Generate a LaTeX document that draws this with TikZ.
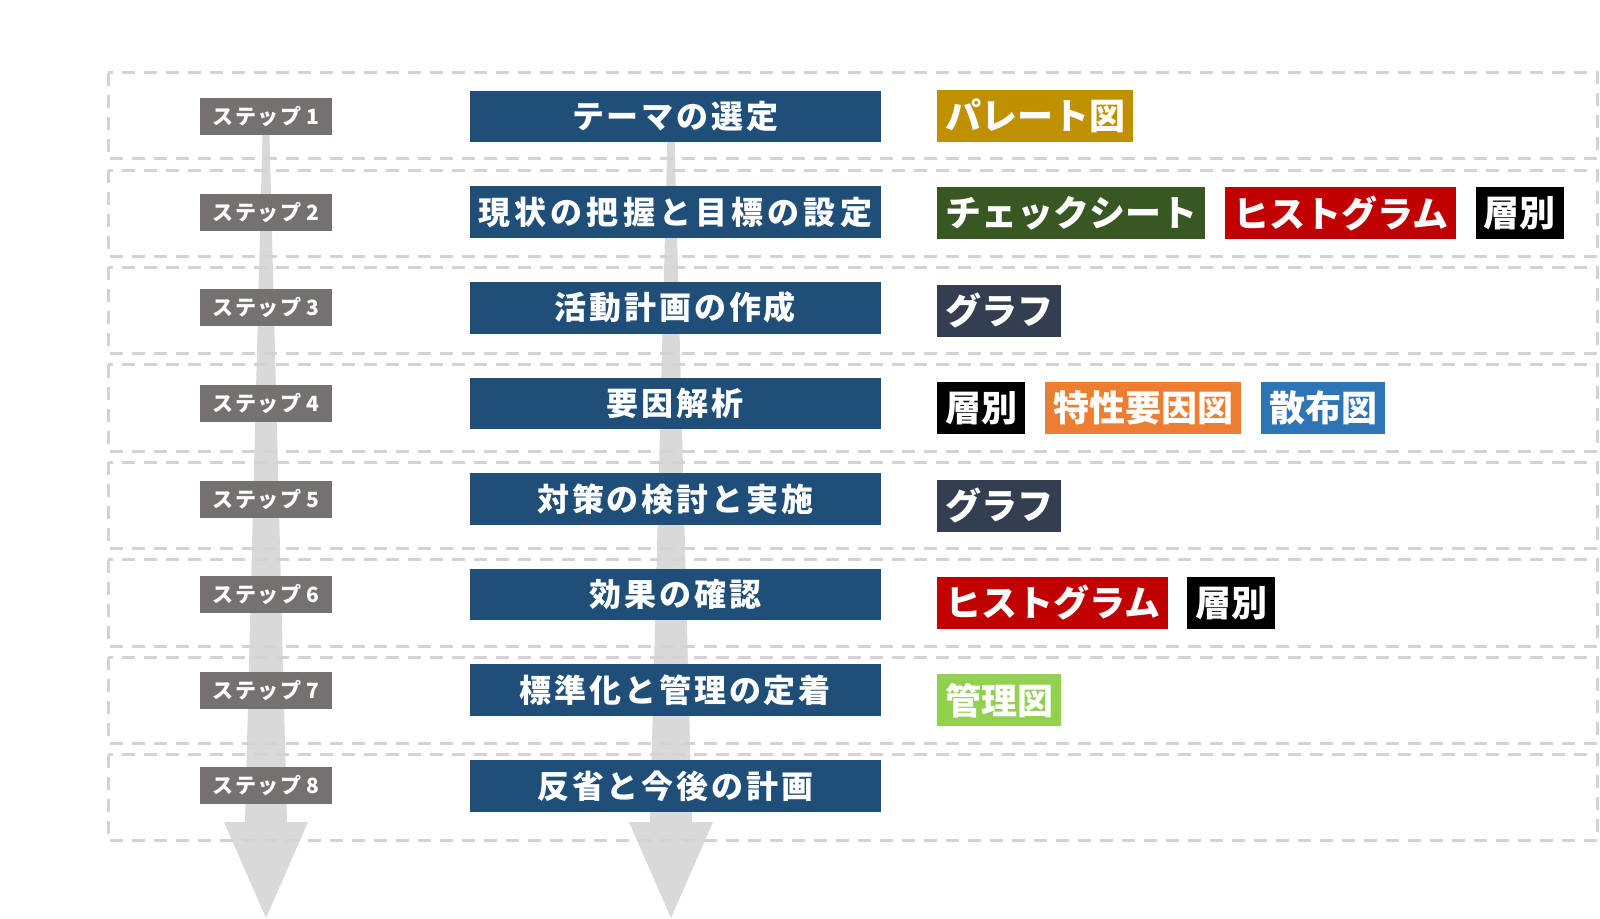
\documentclass[tikz,border=0pt]{standalone}
\usepackage{fontspec}
\newfontfamily\jp{Noto Sans CJK JP}
\usetikzlibrary{positioning}

\definecolor{stepgray}{HTML}{767171}
\definecolor{titleblue}{HTML}{1F4E79}
\definecolor{paretogold}{HTML}{BF9000}
\definecolor{checkgreen}{HTML}{385723}
\definecolor{histred}{HTML}{C00000}
\definecolor{graphslate}{HTML}{333F50}
\definecolor{fishorange}{HTML}{ED7D31}
\definecolor{scatterblue}{HTML}{2E75B6}
\definecolor{ctrlgreen}{HTML}{92D050}
\definecolor{arrowgray}{HTML}{D9D9D9}
\definecolor{dashgray}{HTML}{D3D3D3}

\begin{document}
\begin{tikzpicture}[x=0.5pt, y=-0.5pt,
  rowframe/.style={draw=dashgray, line width=1.5pt, dash pattern=on 6.5pt off 4.5pt},
  stepbox/.style={fill=stepgray, text=white, inner sep=0pt,
    minimum width=66pt, minimum height=18.5pt,
    font=\jp\bfseries\fontsize{10.5}{12}\selectfont\addfontfeature{LetterSpace=8}},
  titlebox/.style={fill=titleblue, text=white, inner sep=0pt,
    minimum width=205.3pt, minimum height=25.8pt,
    font=\jp\bfseries\fontsize{16}{19}\selectfont\addfontfeature{LetterSpace=9}},
  titlewide/.style={titlebox,
    font=\jp\bfseries\fontsize{16}{19}\selectfont\addfontfeature{LetterSpace=13}},
  tool/.style={text=white, inner xsep=4pt, inner ysep=0pt, minimum height=26pt,
    font=\jp\bfseries\fontsize{18}{21}\selectfont}]
  \useasboundingbox (0,0) rectangle (1600,919);

  % Flow arrows
  \foreach \cx in {266,671}
    \fill[arrowgray] ({\cx-3},116) -- ({\cx+3},116) -- ({\cx+21},822) -- ({\cx+42},822)
      -- (\cx,918) -- ({\cx-42},822) -- ({\cx-21},822) -- cycle;

  % Row frames
  \foreach \k in {0,...,7}
    \draw[rowframe] (108.3,{72.7+97.4*\k}) rectangle (1597.5,{159+97.4*\k});

  % Step 1
  \node[stepbox] (step1) at (266,116.6) {ステップ\hspace{2.5pt}1};
  \node[titlebox] (title1) at (675.3,116.6) {テーマの選定};
  \node[tool, fill=paretogold, anchor=west] (tool1a) at (937,115.9) {パレート図};

  % Step 2
  \node[stepbox] (step2) at (266,212.2) {ステップ\hspace{2.5pt}2};
  \node[titlewide] (title2) at (675.3,212.2) {現状の把握と目標の設定};
  \node[tool, fill=checkgreen, anchor=west] (tool2a) at (937,213.3) {チェックシート};
  \node[tool, fill=histred, right=9.5pt of tool2a] (tool2b) {ヒストグラム};
  \node[tool, fill=black, right=9.5pt of tool2b] (tool2c) {層別};

  % Step 3
  \node[stepbox] (step3) at (266,307.8) {ステップ\hspace{2.5pt}3};
  \node[titlebox] (title3) at (675.3,307.8) {活動計画の作成};
  \node[tool, fill=graphslate, anchor=west] (tool3a) at (937,310.7) {グラフ};

  % Step 4
  \node[stepbox] (step4) at (266,403.4) {ステップ\hspace{2.5pt}4};
  \node[titlebox] (title4) at (675.3,403.4) {要因解析};
  \node[tool, fill=black, anchor=west] (tool4a) at (937,408.1) {層別};
  \node[tool, fill=fishorange, right=9.5pt of tool4a] (tool4b) {特性要因図};
  \node[tool, fill=scatterblue, right=9.5pt of tool4b] (tool4c) {散布図};

  % Step 5
  \node[stepbox] (step5) at (266,499.0) {ステップ\hspace{2.5pt}5};
  \node[titlebox] (title5) at (675.3,499.0) {対策の検討と実施};
  \node[tool, fill=graphslate, anchor=west] (tool5a) at (937,505.5) {グラフ};

  % Step 6
  \node[stepbox] (step6) at (266,594.6) {ステップ\hspace{2.5pt}6};
  \node[titlebox] (title6) at (675.3,594.6) {効果の確認};
  \node[tool, fill=histred, anchor=west] (tool6a) at (937,602.9) {ヒストグラム};
  \node[tool, fill=black, right=9pt of tool6a] (tool6b) {層別};

  % Step 7
  \node[stepbox] (step7) at (266,690.2) {ステップ\hspace{2.5pt}7};
  \node[titlebox] (title7) at (675.3,690.2) {標準化と管理の定着};
  \node[tool, fill=ctrlgreen, anchor=west] (tool7a) at (937,700.3) {管理図};

  % Step 8
  \node[stepbox] (step8) at (266,785.8) {ステップ\hspace{2.5pt}8};
  \node[titlebox] (title8) at (675.3,785.8) {反省と今後の計画};
\end{tikzpicture}
\end{document}
